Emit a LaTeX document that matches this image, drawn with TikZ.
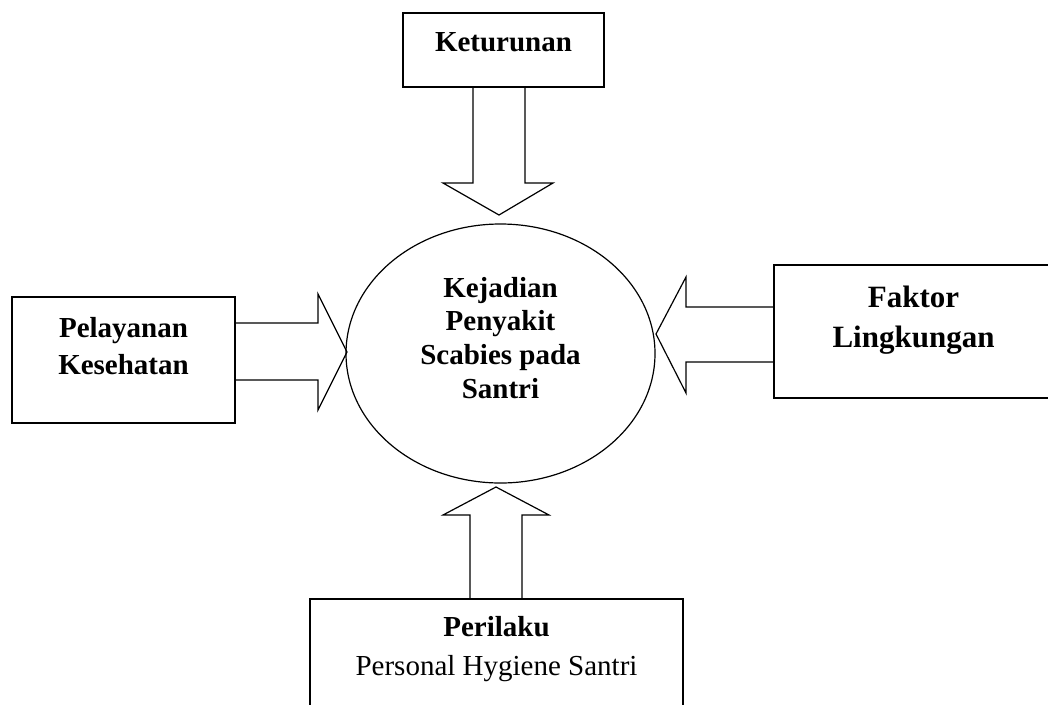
\documentclass[tikz,border=0pt]{standalone}
\usepackage{fontspec}
\setmainfont{Liberation Serif}
\usetikzlibrary{shapes.geometric,calc}
\newcommand{\boxtext}[3]{\raisebox{#1}[0pt][0pt]{#2\begin{tabular}[t]{@{}c@{}}#3\end{tabular}}}
\begin{document}
\begin{tikzpicture}[x=1pt,y=-1pt,
  boxnode/.style={draw, rectangle, line width=1.6pt, inner sep=0pt, outer sep=0pt},
  ovalnode/.style={draw, ellipse, line width=1.2pt, inner sep=0pt, outer sep=0pt},
  blk/.style={draw, line width=1.2pt, line join=miter}]
\useasboundingbox (0,0) rectangle (1048,704);
\clip (0,0) rectangle (1048,704);

\node[boxnode, minimum width=201pt, minimum height=74pt] (ket) at (503.5,50)
  {\boxtext{-1pt}{\fontsize{29}{34}\selectfont\bfseries}{Keturunan}};
\node[ovalnode, minimum width=309pt, minimum height=259pt] (kej) at (500.5,353.5)
  {\boxtext{56.5pt}{\fontsize{29}{33.7}\selectfont\bfseries}{Kejadian\\Penyakit\\Scabies pada\\Santri}};
\node[boxnode, minimum width=223pt, minimum height=126pt] (pel) at (123.5,360)
  {\boxtext{23pt}{\fontsize{29}{37}\selectfont\bfseries}{Pelayanan\\Kesehatan}};
\node[boxnode, minimum width=279pt, minimum height=133pt] (fak) at (913.5,331.5)
  {\boxtext{24.5pt}{\fontsize{31}{40}\selectfont\bfseries}{Faktor\\Lingkungan}};
\node[boxnode, minimum width=373pt, minimum height=121pt] (per) at (496.5,659.5)
  {\boxtext{23.5pt}{\fontsize{29}{39}\selectfont}{\textbf{Perilaku}\\Personal Hygiene Santri}};

% top block arrow
\draw[blk] ($(ket.south)+(-30.5,0)$) -- ($(ket.south)+(-30.5,96)$) -- ($(ket.south)+(-60.5,96)$)
  -- ($(kej.north)+(-1.5,-9)$) -- ($(ket.south)+(49.5,96)$) -- ($(ket.south)+(21.5,96)$)
  -- ($(ket.south)+(21.5,0)$);
% left block arrow
\draw[blk] ($(pel.east)+(0,-37)$) -- ($(pel.east)+(83,-37)$) -- ($(pel.east)+(83,-66)$)
  -- ($(kej.west)+(1,-1.5)$) -- ($(pel.east)+(83,50)$) -- ($(pel.east)+(83,20)$)
  -- ($(pel.east)+(0,20)$);
% right block arrow
\draw[blk] ($(fak.west)+(0,-24.5)$) -- ($(fak.west)+(-88,-24.5)$) -- ($(fak.west)+(-88,-54.5)$)
  -- ($(kej.east)+(1,-19.5)$) -- ($(fak.west)+(-88,61.5)$) -- ($(fak.west)+(-88,30.5)$)
  -- ($(fak.west)+(0,30.5)$);
% bottom block arrow
\draw[blk] ($(per.north)+(-26.5,0)$) -- ($(per.north)+(-26.5,-84)$) -- ($(per.north)+(-53.5,-84)$)
  -- ($(kej.south)+(-4.5,4)$) -- ($(per.north)+(52.5,-84)$) -- ($(per.north)+(25.5,-84)$)
  -- ($(per.north)+(25.5,0)$);
\end{tikzpicture}
\end{document}
